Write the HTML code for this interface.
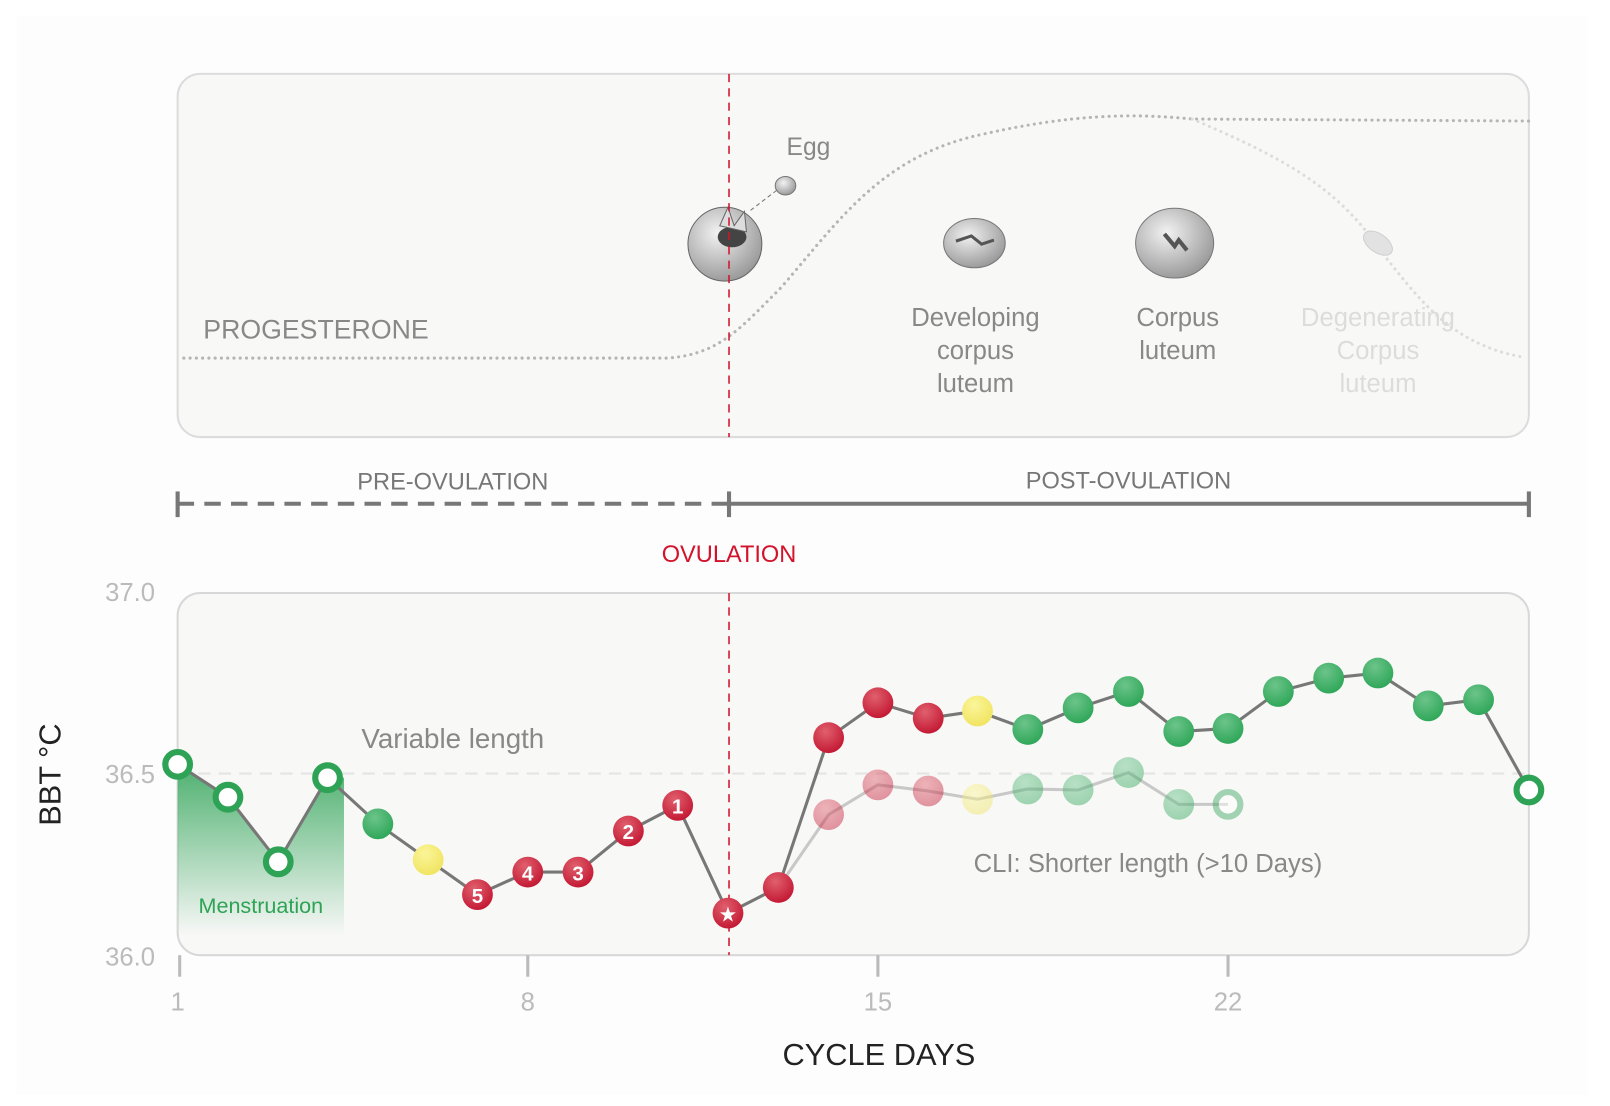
<!DOCTYPE html>
<html><head><meta charset="utf-8"><style>
html,body{margin:0;padding:0;background:#fff;}
svg{display:block;font-family:"Liberation Sans",sans-serif;}
</style></head><body>
<svg width="1610" height="1106" viewBox="-1 0 1568 1078" preserveAspectRatio="none" xmlns="http://www.w3.org/2000/svg">
<defs>
<radialGradient id="gr" cx="0.4" cy="0.3" r="0.8"><stop offset="0" stop-color="#e0606e"/><stop offset="1" stop-color="#c0102c"/></radialGradient>
<radialGradient id="gg" cx="0.4" cy="0.3" r="0.8"><stop offset="0" stop-color="#6cc48a"/><stop offset="1" stop-color="#27a352"/></radialGradient>
<radialGradient id="gy" cx="0.4" cy="0.3" r="0.8"><stop offset="0" stop-color="#fbf59a"/><stop offset="1" stop-color="#efe25a"/></radialGradient>
<linearGradient id="men" x1="0" y1="0" x2="0" y2="1"><stop offset="0" stop-color="#3aa85f" stop-opacity="0.9"/><stop offset="1" stop-color="#3aa85f" stop-opacity="0"/></linearGradient>
<radialGradient id="gray" cx="0.4" cy="0.35" r="0.8"><stop offset="0" stop-color="#f2f2f2"/><stop offset="1" stop-color="#888"/></radialGradient>
</defs>
<rect x="-10" width="1600" height="1100" fill="#fff"/>
<rect x="15" y="15" width="1530" height="1052" fill="#fdfdfd"/>
<rect x="172" y="72" width="1316" height="354" rx="22" fill="#f8f8f7" stroke="#dcdcdc" stroke-width="2"/>
<path d="M178,349 L650,349 C700,345 720,320 760,280 C820,210 860,150 960,130 C1040,112 1100,110 1160,116 L1488,118" fill="none" stroke="#b5b5b5" stroke-width="3" stroke-dasharray="0.1 6" stroke-linecap="round"/>
<path d="M1160,116 C1240,150 1300,180 1340,240 C1380,290 1410,335 1482,348" fill="none" stroke="#dcdcdc" stroke-width="3" stroke-dasharray="0.1 6" stroke-linecap="round"/>
<text x="197" y="330" font-size="26" fill="#888">PROGESTERONE</text>
<text x="765" y="151" font-size="24" fill="#888">Egg</text>
<line x1="730" y1="205" x2="760" y2="182" stroke="#777" stroke-dasharray="4 3"/>
<ellipse cx="764" cy="181" rx="10" ry="9" fill="url(#gray)" stroke="#777"/>
<circle cx="705" cy="238" r="36" fill="url(#gray)" stroke="#666"/>
<ellipse cx="712" cy="231" rx="14" ry="10" fill="#444"/>
<path d="M700,220 l8,-18 l6,18 l10,-14 l2,20 z" fill="#ddd" stroke="#666"/>
<ellipse cx="948" cy="237" rx="30" ry="24" fill="url(#gray)" stroke="#777"/>
<path d="M930,235 l15,-5 l10,8 l12,-4" stroke="#555" stroke-width="3" fill="none"/>
<ellipse cx="1143" cy="237" rx="38" ry="34" fill="url(#gray)" stroke="#777"/>
<path d="M1133,228 l10,12 l4,-6 l8,10" stroke="#555" stroke-width="4" fill="none"/>
<ellipse cx="1341" cy="237" rx="16" ry="9" transform="rotate(35 1341 237)" fill="#e2e2e2" stroke="#d0d0d0"/>
<g font-size="25" fill="#888" text-anchor="middle">
<text x="949" y="318">Developing</text><text x="949" y="350">corpus</text><text x="949" y="382">luteum</text>
<text x="1146" y="318">Corpus</text><text x="1146" y="350">luteum</text>
</g>
<g font-size="25" fill="#dcdcdc" text-anchor="middle">
<text x="1341" y="318">Degenerating</text><text x="1341" y="350">Corpus</text><text x="1341" y="382">luteum</text>
</g>
<line x1="709" y1="72" x2="709" y2="426" stroke="#d3122c" stroke-width="1.5" stroke-dasharray="8 6"/>
<text x="440" y="477" font-size="23" fill="#777" text-anchor="middle">PRE-OVULATION</text>
<text x="1098" y="476" font-size="23" fill="#777" text-anchor="middle">POST-OVULATION</text>
<line x1="172" y1="491" x2="708" y2="491" stroke="#777" stroke-width="4" stroke-dasharray="16 10"/>
<line x1="172" y1="479" x2="172" y2="504" stroke="#777" stroke-width="4"/>
<line x1="709" y1="491" x2="1488" y2="491" stroke="#777" stroke-width="4"/>
<line x1="709" y1="479" x2="709" y2="504" stroke="#777" stroke-width="4"/>
<line x1="1488" y1="479" x2="1488" y2="504" stroke="#777" stroke-width="4"/>
<text x="709" y="548" font-size="23" fill="#d3122c" text-anchor="middle">OVULATION</text>
<rect x="172" y="578" width="1316" height="353" rx="22" fill="#f8f8f7" stroke="#d8d8d8" stroke-width="2"/>
<line x1="172" y1="754" x2="1488" y2="754" stroke="#e4e4e4" stroke-width="2" stroke-dasharray="12 8"/>
<path d="M172,745 L221,777 L270,840 L318,758 L334,758 L334,912 L172,912 Z" fill="url(#men)"/>
<text x="253" y="890" font-size="21" fill="#2ea356" text-anchor="middle">Menstruation</text>
<text x="440" y="729" font-size="27" fill="#888" text-anchor="middle">Variable length</text>
<text x="1117" y="850" font-size="25" fill="#888" text-anchor="middle">CLI: Shorter length (&gt;10 Days)</text>
<line x1="709" y1="578" x2="709" y2="931" stroke="#d3122c" stroke-width="1.5" stroke-dasharray="8 6"/>
<g font-size="25" fill="#bbb" text-anchor="end">
<text x="150" y="586">37.0</text><text x="150" y="763">36.5</text><text x="150" y="941">36.0</text>
</g>
<g stroke="#bbb" stroke-width="3">
<line x1="174" y1="931" x2="174" y2="952"/><line x1="513" y1="931" x2="513" y2="952"/><line x1="854" y1="931" x2="854" y2="952"/><line x1="1195" y1="931" x2="1195" y2="952"/>
</g>
<g font-size="25" fill="#bbb" text-anchor="middle">
<text x="172" y="985">1</text><text x="513" y="985">8</text><text x="854" y="985">15</text><text x="1195" y="985">22</text>
</g>
<text x="855" y="1038" font-size="30" fill="#222" text-anchor="middle">CYCLE DAYS</text>
<text transform="translate(58,755) rotate(-90)" font-size="30" fill="#222" text-anchor="middle">BBT °C</text>
<polyline points="757,865 806,794 854,765 903,771 951,779 1000,769 1049,770 1098,753 1147,784 1195,784" fill="none" stroke="#c8c8c8" stroke-width="3"/>
<g opacity="0.45">
<circle cx="806" cy="794" r="15" fill="url(#gr)"/><circle cx="854" cy="765" r="15" fill="url(#gr)"/><circle cx="903" cy="771" r="15" fill="url(#gr)"/>
<circle cx="951" cy="779" r="15" fill="url(#gy)"/><circle cx="1000" cy="769" r="15" fill="url(#gg)"/><circle cx="1049" cy="770" r="15" fill="url(#gg)"/>
<circle cx="1098" cy="753" r="15" fill="url(#gg)"/><circle cx="1147" cy="784" r="15" fill="url(#gg)"/>
<circle cx="1195" cy="784" r="12" fill="#fff" stroke="#3aa85f" stroke-width="6"/>
</g>
<polyline points="172,745 221,777 270,840 318,758 367,803 416,838 464,872 513,850 562,850 611,810 659,785 708,890 757,865 806,719 854,685 903,700 951,693 1000,711 1049,690 1098,674 1147,713 1195,710 1244,674 1293,661 1341,656 1390,688 1439,682 1488,770" fill="none" stroke="#777" stroke-width="3"/>
<g fill="#fff" stroke="#2ea356" stroke-width="6">
<circle cx="172" cy="745" r="12"/><circle cx="221" cy="777" r="12"/><circle cx="270" cy="840" r="12"/><circle cx="318" cy="758" r="12"/><circle cx="1488" cy="770" r="12"/>
</g>
<circle cx="367" cy="803" r="15" fill="url(#gg)"/><circle cx="416" cy="838" r="15" fill="url(#gy)"/>
<g fill="url(#gr)">
<circle cx="464" cy="872" r="15"/><circle cx="513" cy="850" r="15"/><circle cx="562" cy="850" r="15"/><circle cx="611" cy="810" r="15"/><circle cx="659" cy="785" r="15"/>
<circle cx="708" cy="890" r="15"/><circle cx="757" cy="865" r="15"/><circle cx="806" cy="719" r="15"/><circle cx="854" cy="685" r="15"/><circle cx="903" cy="700" r="15"/>
</g>
<g font-size="20" font-weight="bold" fill="#fff" text-anchor="middle">
<text x="464" y="880">5</text><text x="513" y="858">4</text><text x="562" y="858">3</text><text x="611" y="818">2</text><text x="659" y="793">1</text>
</g>
<text x="708" y="898" font-size="20" fill="#fff" text-anchor="middle">★</text>
<circle cx="951" cy="693" r="15" fill="url(#gy)"/>
<g fill="url(#gg)">
<circle cx="1000" cy="711" r="15"/><circle cx="1049" cy="690" r="15"/><circle cx="1098" cy="674" r="15"/><circle cx="1147" cy="713" r="15"/><circle cx="1195" cy="710" r="15"/>
<circle cx="1244" cy="674" r="15"/><circle cx="1293" cy="661" r="15"/><circle cx="1341" cy="656" r="15"/><circle cx="1390" cy="688" r="15"/><circle cx="1439" cy="682" r="15"/>
</g>
</svg>
</body></html>
